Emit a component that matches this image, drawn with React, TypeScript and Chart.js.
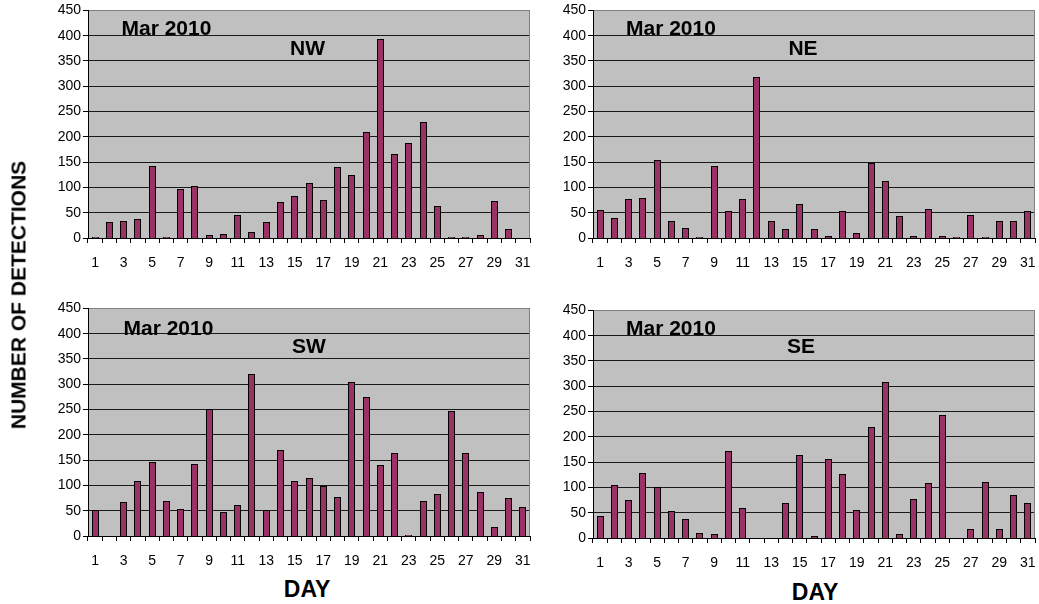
import { useEffect, useRef } from "react";
import { Chart, registerables } from "chart.js";

Chart.register(...registerables);

const days = [
  "1", "2", "3", "4", "5", "6", "7", "8", "9", "10",
  "11", "12", "13", "14", "15", "16", "17", "18", "19", "20",
  "21", "22", "23", "24", "25", "26", "27", "28", "29", "30", "31",
];
const nwValues = [2, 32, 34, 38, 143, 2, 97, 103, 6, 8, 45, 11, 32, 71, 83, 108, 76, 140, 124, 209, 394, 166, 187, 230, 64, 2, 2, 6, 74, 18, 0];
const neValues = [55, 39, 78, 80, 154, 34, 20, 2, 143, 53, 78, 318, 34, 18, 67, 18, 4, 53, 9, 149, 112, 43, 4, 57, 4, 2, 45, 2, 34, 34, 53];
const swValues = [51, 0, 67, 108, 147, 69, 53, 143, 252, 47, 62, 321, 51, 170, 108, 115, 99, 78, 304, 275, 141, 164, 2, 69, 83, 247, 164, 87, 18, 76, 57];
const seValues = [43, 104, 76, 129, 101, 53, 37, 9, 7, 173, 59, 0, 0, 69, 164, 4, 157, 127, 55, 219, 309, 7, 78, 108, 244, 0, 18, 110, 18, 85, 69];

const yMin = 0;
const yMax = 450;
const yStep = 50;
const monthLabel = "Mar 2010";
const yTitle = "NUMBER OF DETECTIONS";
const xTitle = "DAY";

const FONT = '"Liberation Sans", Arial, Helvetica, sans-serif';
const BAR_COLOR = "#993366";
const PLOT_BG = "#c0c0c0";

const AXIS_W = 60;
const AXIS_H = 30;
const PAD_TOP = 10;
const PAD_RIGHT = 16;
const PLOT_W = 442;
const PLOT_H = 228;

type Panel = {
  name: string;
  values: number[];
  plotLeft: number;
  plotTop: number;
  markDX: number;
  markDY: number;
  titleDX: number;
  titleDY: number;
};

const panels: Panel[] = [
  { name: "NW", values: nwValues, plotLeft: 88, plotTop: 10, markDX: 33.5, markDY: 25, titleDX: 219.5, titleDY: 45 },
  { name: "NE", values: neValues, plotLeft: 593, plotTop: 10, markDX: 33, markDY: 25, titleDX: 210, titleDY: 45 },
  { name: "SW", values: swValues, plotLeft: 88, plotTop: 308, markDX: 35.5, markDY: 27, titleDX: 221, titleDY: 45 },
  { name: "SE", values: seValues, plotLeft: 593, plotTop: 310, markDX: 33, markDY: 25, titleDX: 208, titleDY: 43 },
];

function makePlugins(p: Panel) {
  return [
    {
      id: "plotFrame",
      beforeDraw(chart: any) {
        const { ctx, chartArea: a } = chart;
        ctx.save();
        ctx.fillStyle = PLOT_BG;
        ctx.fillRect(a.left, a.top, a.right - a.left, a.bottom - a.top);
        ctx.restore();
      },
      beforeDatasetsDraw(chart: any) {
        // snap the library-computed bar geometry to whole pixels for crisp outlines
        const meta = chart.getDatasetMeta(0);
        meta.data.forEach((bar: any) => {
          const w = Math.round(bar.width);
          bar.width = w;
          bar.x = Math.round(bar.x - w / 2) + w / 2;
          bar.y = Math.round(bar.y);
          bar.base = Math.round(bar.base);
        });
      },
      afterDatasetsDraw(chart: any) {
        const { ctx, chartArea: a } = chart;
        ctx.save();
        ctx.strokeStyle = "#808080";
        ctx.lineWidth = 1;
        ctx.beginPath();
        ctx.moveTo(Math.round(a.right) - 0.5, a.top);
        ctx.lineTo(Math.round(a.right) - 0.5, a.bottom);
        ctx.stroke();
        ctx.restore();
      },
      afterDraw(chart: any) {
        const { ctx, chartArea: a } = chart;
        ctx.save();
        ctx.fillStyle = "#000";
        ctx.font = `bold 21px ${FONT}`;
        ctx.textBaseline = "alphabetic";
        ctx.textAlign = "left";
        ctx.fillText(monthLabel, a.left + p.markDX, a.top + p.markDY);
        ctx.textAlign = "center";
        ctx.fillText(p.name, a.left + p.titleDX, a.top + p.titleDY);
        ctx.restore();
      },
    },
  ];
}

function PanelChart({ p }: { p: Panel }) {
  const ref = useRef<HTMLCanvasElement | null>(null);
  const width = AXIS_W + PLOT_W + PAD_RIGHT;
  const height = PAD_TOP + PLOT_H + AXIS_H;

  useEffect(() => {
    if (!ref.current) return;
    const chart = new Chart(ref.current, {
      type: "bar",
      data: {
        labels: days,
        datasets: [
          {
            data: p.values,
            backgroundColor: BAR_COLOR,
            borderColor: "#000",
            borderWidth: 1,
            inflateAmount: 0,
            barPercentage: 0.5,
            categoryPercentage: 1,
          },
        ],
      },
      options: {
        responsive: false,
        animation: false,
        devicePixelRatio: 1,
        layout: { padding: { top: PAD_TOP, right: PAD_RIGHT, left: 0, bottom: 0 } },
        plugins: { legend: { display: false }, tooltip: { enabled: false }, title: { display: false } },
        scales: {
          x: {
            type: "category",
            offset: true,
            afterFit(scale: any) {
              scale.height = AXIS_H;
            },
            grid: {
              display: true,
              offset: true,
              drawOnChartArea: false,
              drawTicks: true,
              tickLength: 5,
              color: "#000",
              tickColor: "#000",
            },
            border: { display: true, color: "#000", width: 1 },
            ticks: {
              autoSkip: false,
              maxRotation: 0,
              minRotation: 0,
              padding: 12,
              color: "#000",
              font: { family: FONT, size: 14 },
              callback: (_v: any, i: number) => (i % 2 === 0 ? days[i] : ""),
            },
          },
          y: {
            min: yMin,
            max: yMax,
            afterFit(scale: any) {
              scale.width = AXIS_W;
            },
            grid: {
              display: true,
              drawTicks: true,
              tickLength: 5,
              lineWidth: 1,
              color: (c: any) => (c.tick && c.tick.value === yMax ? "#808080" : "#1a1a1a"),
              tickColor: "#000",
            },
            border: { display: true, color: "#000", width: 1 },
            ticks: {
              stepSize: yStep,
              padding: 2,
              color: "#000",
              font: { family: FONT, size: 14 },
            },
          },
        },
      },
      plugins: makePlugins(p) as any,
    });
    return () => chart.destroy();
  }, [p]);

  return (
    <canvas
      ref={ref}
      width={width}
      height={height}
      style={{
        position: "absolute",
        left: p.plotLeft - AXIS_W,
        top: p.plotTop - PAD_TOP,
        width,
        height,
      }}
    />
  );
}

export default function App() {
  return (
    <div
      style={{
        position: "absolute",
        left: 0,
        top: 0,
        width: 1039,
        height: 604,
        overflow: "hidden",
        background: "#fff",
        fontFamily: FONT,
      }}
    >
      {panels.map((p) => (
        <PanelChart key={p.name} p={p} />
      ))}
      <div
        style={{
          position: "absolute",
          left: 18,
          top: 295,
          transform: "translate(-50%, -50%) rotate(-90deg)",
          whiteSpace: "nowrap",
          fontWeight: "bold",
          fontSize: 21,
          color: "#000",
          lineHeight: 1,
        }}
      >
        {yTitle}
      </div>
      <div
        style={{
          position: "absolute",
          left: 307,
          top: 589,
          transform: "translate(-50%, -50%)",
          whiteSpace: "nowrap",
          fontWeight: "bold",
          fontSize: 23,
          color: "#000",
          lineHeight: 1,
        }}
      >
        {xTitle}
      </div>
      <div
        style={{
          position: "absolute",
          left: 815,
          top: 592,
          transform: "translate(-50%, -50%)",
          whiteSpace: "nowrap",
          fontWeight: "bold",
          fontSize: 23,
          color: "#000",
          lineHeight: 1,
        }}
      >
        {xTitle}
      </div>
    </div>
  );
}
